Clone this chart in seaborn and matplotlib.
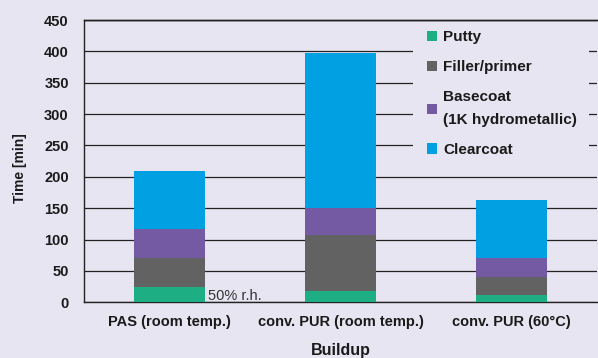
import numpy as np
import pandas as pd
import matplotlib
matplotlib.use("Agg")
import matplotlib.pyplot as plt
import seaborn as sns
from matplotlib.patches import Patch, Rectangle
from matplotlib.lines import Line2D

# ---- data ----
buildups = ["PAS (room temp.)", "conv. PUR (room temp.)", "conv. PUR (60°C)"]
putty = [25, 18, 12]
filler = [46, 90, 28]
basecoat = [46, 42, 31]
clearcoat = [93, 248, 92]
layer_names = ["Putty", "Filler/primer", "Basecoat\n(1K hydrometallic)", "Clearcoat"]
layer_colors = ["#1DAE84", "#626262", "#745AA3", "#00A0E3"]
y_ticks = [0, 50, 100, 150, 200, 250, 300, 350, 400, 450]
note_text = "50% r.h."
x_title = "Buildup"
y_title = "Time [min]"

BG = "#E8E5F2"
INK = "#1A1A1A"
LINE = "#222222"

sns.set_theme(style="white")
plt.rcParams["font.family"] = ["Liberation Sans", "DejaVu Sans"]

fig = plt.figure(figsize=(5.98, 3.58), dpi=100, facecolor=BG)
ax = fig.add_axes([84 / 598, 1 - 302.3 / 358, 513 / 598, 282.3 / 358])
ax.set_facecolor(BG)

layers = [putty, filler, basecoat, clearcoat]
bottom = np.zeros(len(buildups))
for vals, col in zip(layers, layer_colors):
    df = pd.DataFrame({"Buildup": buildups, "Time": vals})
    sns.barplot(data=df, x="Buildup", y="Time", order=buildups, color=col,
                saturation=1, width=0.41, bottom=bottom, errorbar=None,
                linewidth=0, ax=ax, zorder=3)
    bottom = bottom + np.array(vals)

ax.set_ylim(0, y_ticks[-1])
ax.set_xlim(-0.5, 2.5)
ax.set_yticks(y_ticks)
ax.set_yticklabels([str(t) for t in y_ticks], fontsize=10.5, fontweight="bold", color=INK)
ax.set_xticks(range(len(buildups)))
ax.set_xticklabels(buildups, fontsize=10.5, fontweight="bold", color=INK)
ax.tick_params(axis="both", length=0)
ax.tick_params(axis="y", pad=11)
ax.tick_params(axis="x", pad=9)

ax.yaxis.grid(True, color=LINE, linewidth=0.9)
ax.xaxis.grid(False)
ax.set_axisbelow(True)

for side in ["left", "bottom", "top"]:
    ax.spines[side].set_visible(True)
    ax.spines[side].set_color(LINE)
    ax.spines[side].set_linewidth(1.0)
ax.spines["right"].set_visible(False)

ax.set_xlabel(x_title, fontsize=11.5, fontweight="bold", color=INK, labelpad=10)
ax.set_ylabel(y_title, fontsize=10, fontweight="bold", color=INK)
ax.yaxis.set_label_coords(-0.112, 0.476)

ax.text(0 + 0.41 / 2 + 0.023, 3, note_text, fontsize=10.5, color="#333333",
        ha="left", va="baseline", zorder=4)

handles = [Patch(facecolor=c, edgecolor="none", label=l)
           for c, l in zip(layer_colors, layer_names)]
leg = ax.legend(handles=handles, loc="upper left",
                bbox_to_anchor=(422 / 598, 1 - 25 / 358),
                bbox_transform=fig.transFigure, borderaxespad=0,
                frameon=False, prop={"size": 11, "weight": "bold"},
                handlelength=0.65, handleheight=0.72, handletextpad=0.4,
                labelspacing=1.05, borderpad=0.35)
for t in leg.get_texts():
    t.set_color(INK)
    t.set_linespacing(1.8)

# background panel behind the legend that interrupts the gridlines
fig.canvas.draw()
bb = leg.get_window_extent()
inv = ax.transAxes.inverted()
(x0, y0), (x1, y1) = inv.transform([[bb.x0 - 9, bb.y0 - 8], [bb.x1 + 6, bb.y1]])
y1 = min(y1, 0.985)
ax.add_patch(Rectangle((x0, y0), x1 - x0, y1 - y0, transform=ax.transAxes,
                       facecolor=BG, edgecolor="none", zorder=1))

# top frame line drawn at figure level so nothing inside the axes can hide it
fig.add_artist(Line2D([0, 1], [1, 1], transform=ax.transAxes, color=LINE,
                      linewidth=1.0, zorder=10))

fig.savefig("out.png", dpi=100, facecolor=BG)
